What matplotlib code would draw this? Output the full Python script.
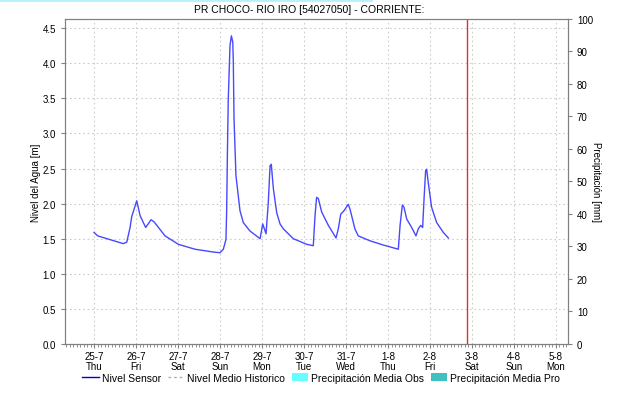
import datetime as dt
import matplotlib
matplotlib.use('Agg')
import matplotlib.pyplot as plt
import matplotlib.dates as mdates
from matplotlib.lines import Line2D
from matplotlib.patches import Patch

plt.rcParams['font.family'] = ['Liberation Sans', 'DejaVu Sans']

titulo = 'PR CHOCO- RIO IRO [54027050] - CORRIENTE:'
inicio = dt.datetime(2024, 7, 25)

# horas desde 25-7 00:00 y nivel del agua [m]
horas = [0, 2.1, 16.7, 18.7, 20.6, 21.5, 24.4, 26.3, 29.5, 32.6, 34.3, 40.6,
         48.2, 57.7, 68.2, 72, 73.9, 75.4, 75.8, 76.2, 76.7, 77.7, 78.5, 79.3,
         79.6, 80, 81.1, 83.4, 85.3, 89.1, 94.9, 96.4, 98.3, 99.6, 100.6,
         101.3, 102.5, 104.4, 106.3, 108.2, 113.9, 121.5, 125.3, 126.3, 127.2,
         128.2, 130.1, 133.9, 138.3, 139.6, 141, 142.9, 145.3, 146.3, 149.1,
         151, 157.7, 165.3, 173.9, 174.9, 176.2, 177.1, 178.7, 181.5, 184,
         185.3, 186.7, 187.8, 188.6, 189.5, 190.1, 191, 192.9, 195.8, 199.6,
         202.5]
nivel = [1.59, 1.54, 1.43, 1.45, 1.66, 1.81, 2.04, 1.83, 1.66, 1.77, 1.74, 1.54,
         1.42, 1.35, 1.31, 1.30, 1.35, 1.49, 1.90, 2.68, 3.47, 4.25, 4.39, 4.30,
         4.01, 3.21, 2.40, 1.90, 1.73, 1.61, 1.50, 1.71, 1.57, 2.02, 2.54,
         2.56, 2.21, 1.87, 1.71, 1.64, 1.50, 1.42, 1.40, 1.83, 2.09,
         2.07, 1.88, 1.69, 1.51, 1.64, 1.85, 1.90, 1.99, 1.92, 1.64,
         1.54, 1.47, 1.41, 1.35, 1.69, 1.98, 1.95, 1.78, 1.66, 1.54,
         1.64, 1.69, 1.66, 2.07, 2.47, 2.49, 2.30, 1.95, 1.73, 1.59,
         1.51]

fechas = [inicio + dt.timedelta(hours=h) for h in horas]
ahora = dt.datetime(2024, 8, 2, 21, 0)
x_ini = dt.datetime(2024, 7, 24, 7, 25)
x_fin = dt.datetime(2024, 8, 5, 6, 50)
dias = [inicio + dt.timedelta(days=i) for i in range(12)]
etiquetas = [d.strftime('%-d-%-m') + '\n' + d.strftime('%a') for d in dias]

gris = '#808080'
fig = plt.figure(figsize=(6.18, 4.02), dpi=100)
ax = fig.add_axes([0.1052, 0.1418, 0.8138, 0.8085])
ax2 = ax.twinx()

ax.plot(fechas, nivel, color='#4848ff', lw=1.0, zorder=3)
ax.axvline(ahora, color='#e03030', lw=1, zorder=4)

ax.set_xlim(x_ini, x_fin)
ax.set_ylim(0, 4.63)
ax2.set_ylim(0, 100)
ax.set_yticks([i * 0.5 for i in range(10)])
ax.set_yticklabels(['%.1f' % (i * 0.5) for i in range(10)])
ax2.set_yticks(range(0, 101, 10))
ax.set_xticks(dias)
ax.set_xticklabels(etiquetas, linespacing=1.05)
ax.xaxis.set_minor_locator(mdates.HourLocator(interval=2))

ax.grid(True, color='#cccccc', ls=(0, (1.5, 2.5)), lw=0.8)
for a in (ax, ax2):
    for s in a.spines.values():
        s.set_color(gris)
    a.tick_params(colors=gris, labelcolor='black', labelsize=7, length=3, width=0.8)
ax.tick_params(axis='x', which='minor', length=2, colors=gris)
ax.tick_params(axis='x', pad=2)

ax.set_ylabel('Nivel del Agua [m]', fontsize=7, labelpad=1)
ax2.set_ylabel('Precipitación [mm]', fontsize=7, rotation=-90, labelpad=6)
fig.text(0.5, 0.975, titulo, ha='center', va='center', fontsize=7.5)

handles = [Line2D([], [], color='#0000cc', lw=1),
           Line2D([], [], color='#b0b0b0', lw=1, ls=(0, (2, 2))),
           Patch(facecolor='#66ffff'),
           Patch(facecolor='#40c0c0')]
nombres = ['Nivel Sensor', 'Nivel Medio Historico',
           'Precipitación Media Obs', 'Precipitación Media Pro']
fig.legend(handles, nombres, loc='center', bbox_to_anchor=(0.52, 0.058), ncol=4,
           frameon=False, fontsize=7.5, handlelength=1.6, handletextpad=0.3,
           columnspacing=0.6, handleheight=0.9)

fig.add_artist(Line2D([0, 0.6], [0.998, 0.998], color='#b8f0f8', lw=2))
fig.savefig('out.png', dpi=100, facecolor='white')
